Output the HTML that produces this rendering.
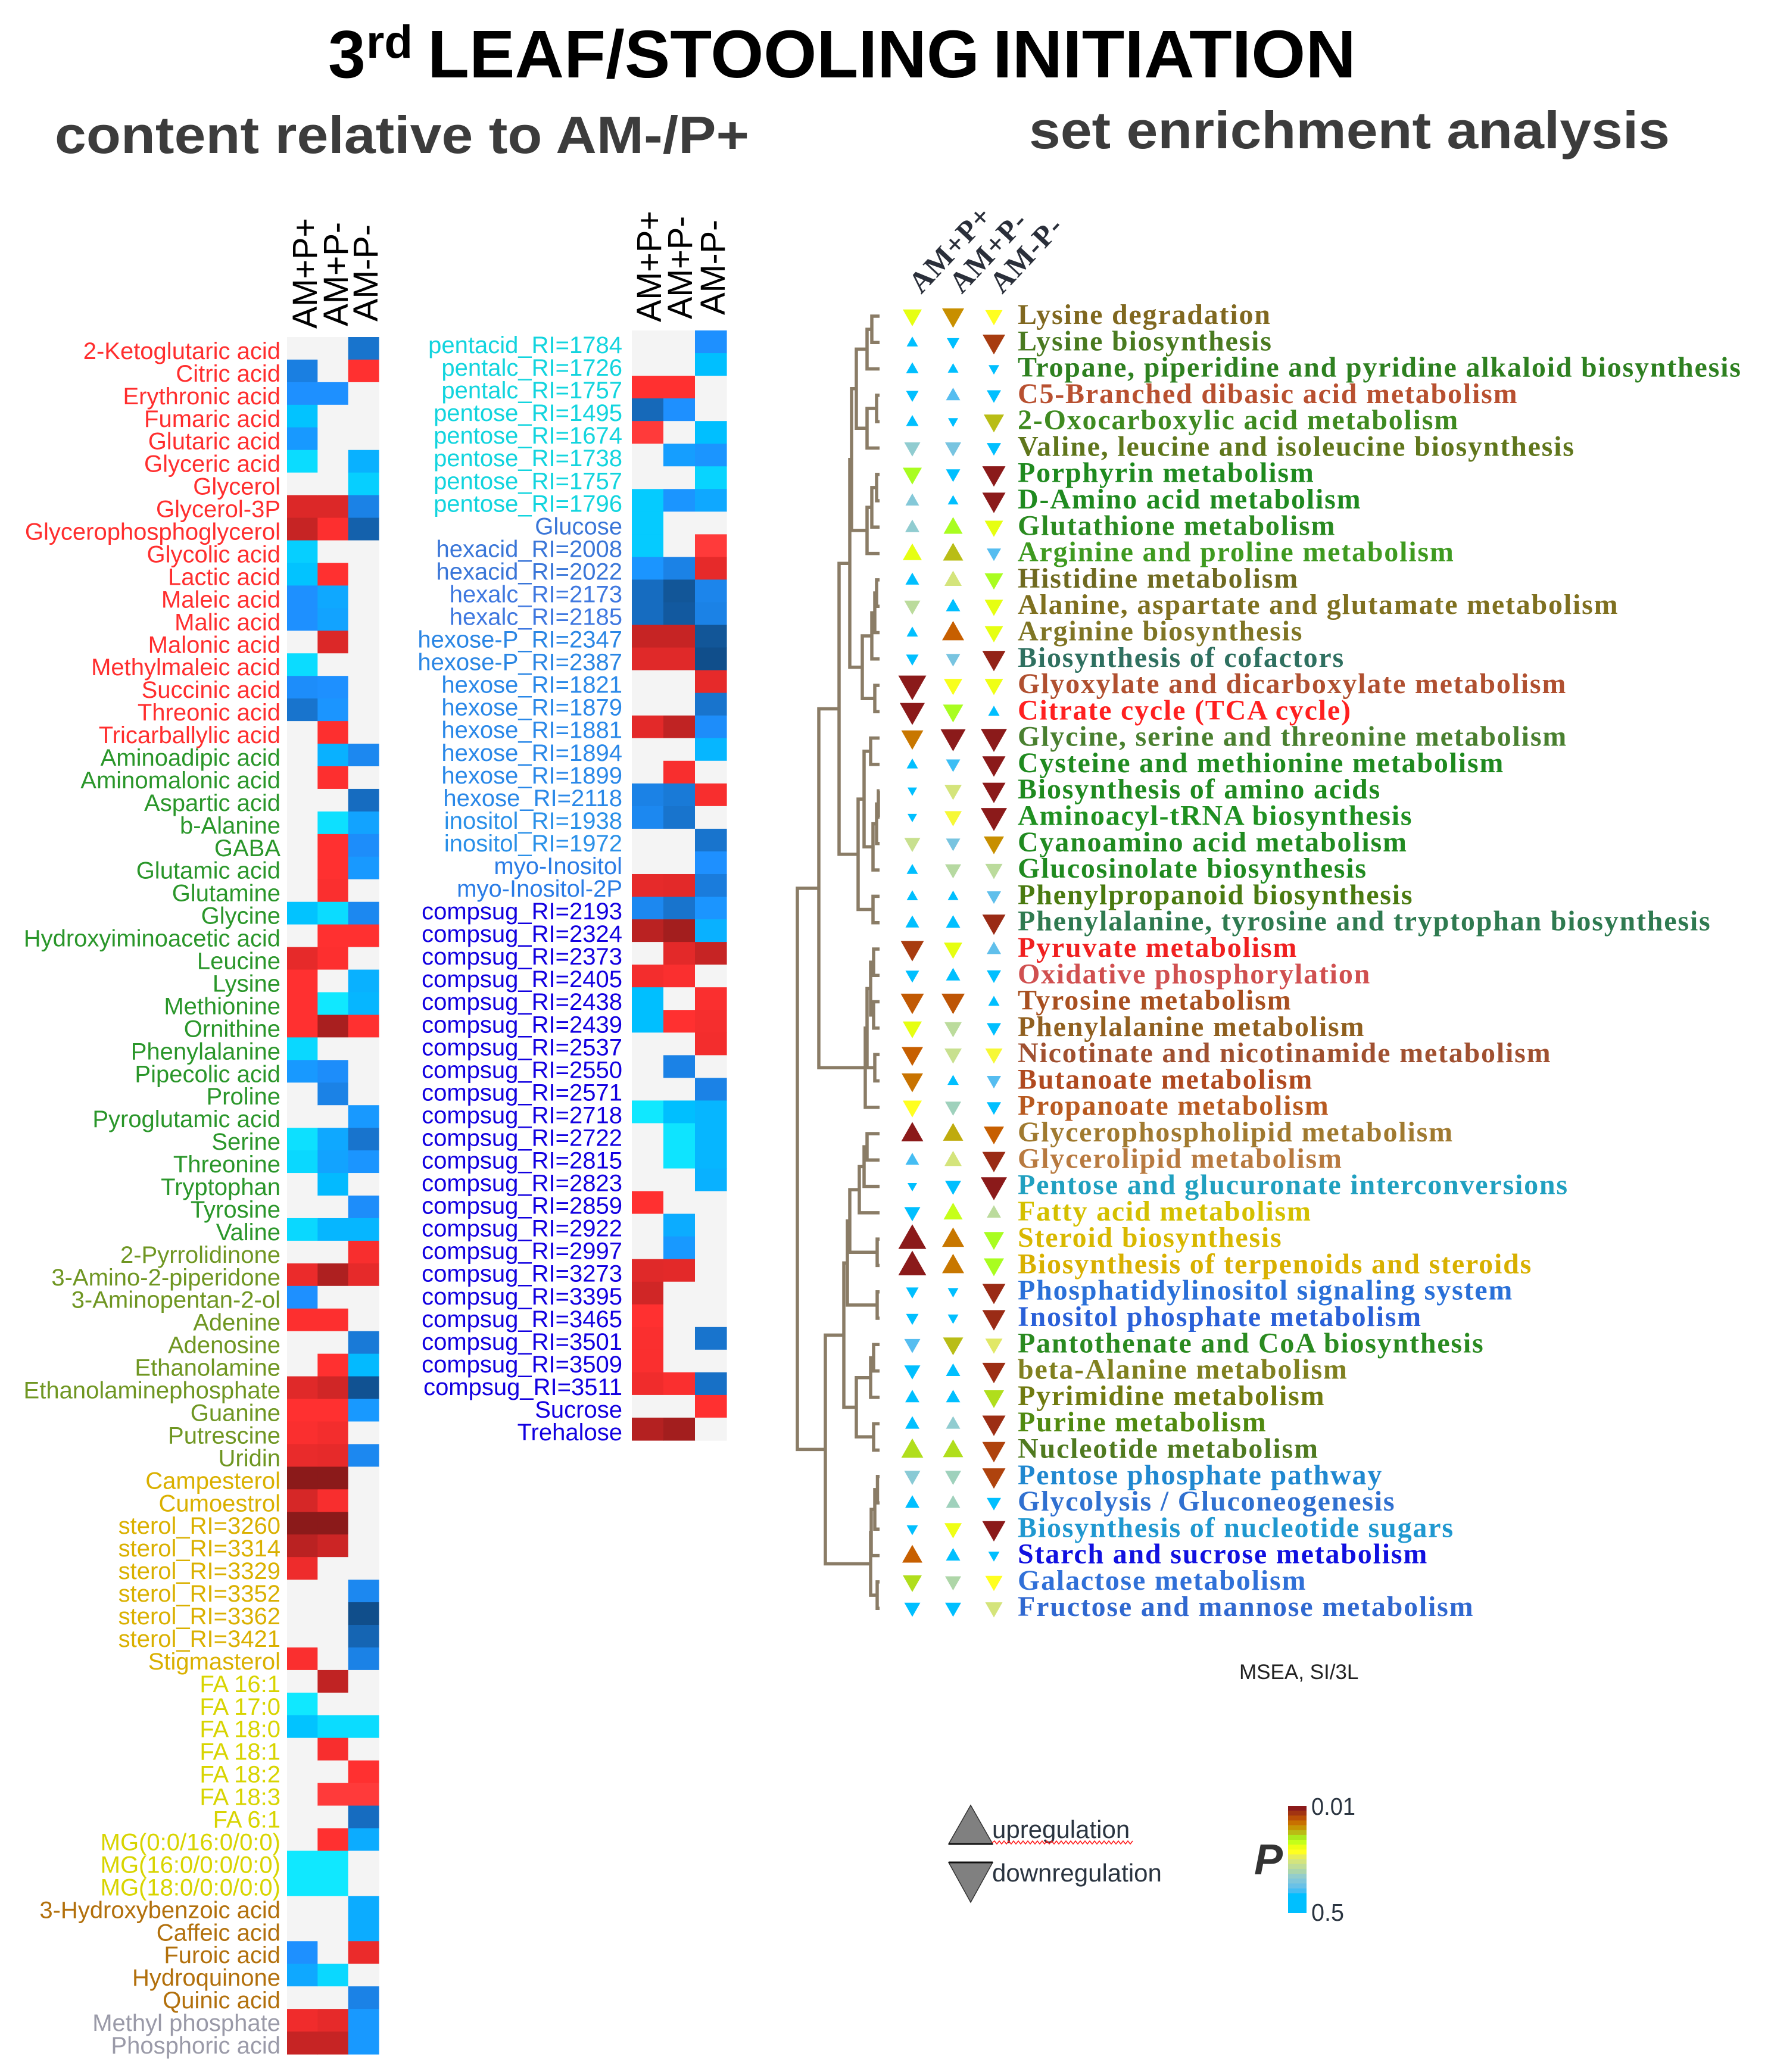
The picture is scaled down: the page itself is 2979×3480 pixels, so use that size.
<!DOCTYPE html>
<html lang="en">
<head>
<meta charset="utf-8">
<title>3rd leaf / stooling initiation</title>
<style>
html,body{margin:0;padding:0;background:#fff;}
svg{display:block;}
</style>
</head>
<body>
<svg id="figure" xmlns="http://www.w3.org/2000/svg" width="2979" height="3480" viewBox="0 0 2979 3480" font-family="'Liberation Sans', sans-serif">
  <rect x="0" y="0" width="2979" height="3480" fill="#ffffff"/>
  <text x="551" y="130" font-size="113" font-weight="700" fill="#000">3</text>
  <text x="615" y="97" font-size="78" font-weight="700" fill="#000">rd</text>
  <text x="718" y="130" font-size="113" font-weight="700" fill="#000" textLength="927" lengthAdjust="spacingAndGlyphs">LEAF/STOOLING</text>
  <text x="1667" y="130" font-size="113" font-weight="700" fill="#000" textLength="610" lengthAdjust="spacingAndGlyphs">INITIATION</text>
  <text x="92" y="257" font-size="88" font-weight="700" fill="#3c3c3c" textLength="1166" lengthAdjust="spacingAndGlyphs">content relative to AM-/P+</text>
  <text x="1728" y="249" font-size="88" font-weight="700" fill="#3c3c3c" textLength="1076" lengthAdjust="spacingAndGlyphs">set enrichment analysis</text>
  <g id="left-heatmap"></g>
  <g id="middle-heatmap"></g>
  <g id="dendrogram"></g>
  <g id="msea"></g>
  <text x="2081" y="2820" font-size="35" fill="#222">MSEA, SI/3L</text>
  <g>
    <polygon points="1630,3032 1667,3097 1593,3097" fill="#808080" stroke="#333" stroke-width="1.5"/>
    <line x1="1593" y1="3097" x2="1667" y2="3097" stroke="#111" stroke-width="3"/>
    <polygon points="1593,3128 1667,3128 1630,3195" fill="#808080" stroke="#333" stroke-width="1.5"/>
    <line x1="1593" y1="3128" x2="1667" y2="3128" stroke="#111" stroke-width="3"/>
    <text x="1666" y="3087" font-size="42" fill="#2a3440">upregulation</text>
    <path id="squiggle" fill="none" stroke="#ff1a1a" stroke-width="1.6"/>
    <text x="1666" y="3160" font-size="42" fill="#2a3440">downregulation</text>
  </g>
  <g id="colorbar">
    <text x="2106" y="3148" font-size="72" font-weight="700" font-style="italic" fill="#333">P</text>
    <text x="2202" y="3048" font-size="41" fill="#2a3440" textLength="74" lengthAdjust="spacingAndGlyphs">0.01</text>
    <text x="2202" y="3226" font-size="41" fill="#2a3440" textLength="55" lengthAdjust="spacingAndGlyphs">0.5</text>
  </g>
</svg>
<script>
/* ---------- shared treatment names ---------- */
const treatments = ["AM+P+", "AM+P-", "AM-P-"];

/* ---------- left heatmap data ---------- */
const leftLabels = ["2-Ketoglutaric acid","Citric acid","Erythronic acid","Fumaric acid","Glutaric acid","Glyceric acid","Glycerol","Glycerol-3P","Glycerophosphoglycerol","Glycolic acid","Lactic acid","Maleic acid","Malic acid","Malonic acid","Methylmaleic acid","Succinic acid","Threonic acid","Tricarballylic acid","Aminoadipic acid","Aminomalonic acid","Aspartic acid","b-Alanine","GABA","Glutamic acid","Glutamine","Glycine","Hydroxyiminoacetic acid","Leucine","Lysine","Methionine","Ornithine","Phenylalanine","Pipecolic acid","Proline","Pyroglutamic acid","Serine","Threonine","Tryptophan","Tyrosine","Valine","2-Pyrrolidinone","3-Amino-2-piperidone","3-Aminopentan-2-ol","Adenine","Adenosine","Ethanolamine","Ethanolaminephosphate","Guanine","Putrescine","Uridin","Campesterol","Cumoestrol","sterol_RI=3260","sterol_RI=3314","sterol_RI=3329","sterol_RI=3352","sterol_RI=3362","sterol_RI=3421","Stigmasterol","FA 16:1","FA 17:0","FA 18:0","FA 18:1","FA 18:2","FA 18:3","FA 6:1","MG(0:0/16:0/0:0)","MG(16:0/0:0/0:0)","MG(18:0/0:0/0:0)","3-Hydroxybenzoic acid","Caffeic acid","Furoic acid","Hydroquinone","Quinic acid","Methyl phosphate","Phosphoric acid"];
const leftGroupSizes = [18, 22, 10, 9, 10, 5, 2];
const leftGroupColors = ["#ff2e2e", "#2a962a", "#6f9622", "#dab000", "#d8d400", "#b2700c", "#9a9aa8"];
const leftAmPlusPPlus = [0,-3.6,-3,-1.9,-2.8,-1.3,0,2.3,3,-1.6,-1.9,-3,-3,0,-1.3,-3.1,-4,0,0,0,0,0,0,0,0,-1.9,0,2,1,1,1,-1.4,-2.8,0,0,-1.2,-1.4,0,0,-1.4,0,1.8,-3,1.1,0,0,2.2,1,1.2,1.9,4,2.5,4,3.2,1.7,0,0,0,1.2,0,-1,-1.9,0,0,0,0,0,-1,-1,0,0,-3,-2.5,0,1.6,3];
const leftAmPlusPMinus = [0,0,-3,0,0,0,0,2.3,1.1,0,1,-2.5,-2.6,2.3,0,-3,-2.9,1.1,-2.3,1.1,0,-1.2,1,1,1.2,-1.3,1,1.1,0,-1,3.5,0,-3.1,-3.5,0,-2.5,-2.6,-2.1,0,-2.2,0,3.4,0,1.1,0,1,2.7,1,1.5,2,4,1.3,4,2.8,0,0,0,0,0,3.1,0,-1.3,1.3,0,0.8,0,1,-1,-1,0,0,0,-1.4,0,2,3];
const leftAmMinusPMinus = [-4,1,0,0,0,-2.3,-1.6,-3.5,-4.5,0,0,0,0,0,0,0,0,0,-3.3,0,-4.2,-2.6,-3.1,-2.8,0,-3.3,1,0,-2.3,-2.2,1,0,0,0,-2.8,-4,-2.9,0,-3.1,-2.2,1.3,2,0,0,-3.8,-2.1,-4.9,-2.8,0,-3.3,0,0,0,0,0,-3.3,-5,-4.4,-3.5,0,0,-1.3,0,1,0.8,-4.2,-2.4,0,0,-2.4,-2.4,1.8,0,-3.5,-2.8,-2.8];

/* ---------- middle heatmap data ---------- */
const middleLabels = ["pentacid_RI=1784","pentalc_RI=1726","pentalc_RI=1757","pentose_RI=1495","pentose_RI=1674","pentose_RI=1738","pentose_RI=1757","pentose_RI=1796","Glucose","hexacid_RI=2008","hexacid_RI=2022","hexalc_RI=2173","hexalc_RI=2185","hexose-P_RI=2347","hexose-P_RI=2387","hexose_RI=1821","hexose_RI=1879","hexose_RI=1881","hexose_RI=1894","hexose_RI=1899","hexose_RI=2118","inositol_RI=1938","inositol_RI=1972","myo-Inositol","myo-Inositol-2P","compsug_RI=2193","compsug_RI=2324","compsug_RI=2373","compsug_RI=2405","compsug_RI=2438","compsug_RI=2439","compsug_RI=2537","compsug_RI=2550","compsug_RI=2571","compsug_RI=2718","compsug_RI=2722","compsug_RI=2815","compsug_RI=2823","compsug_RI=2859","compsug_RI=2922","compsug_RI=2997","compsug_RI=3273","compsug_RI=3395","compsug_RI=3465","compsug_RI=3501","compsug_RI=3509","compsug_RI=3511","Sucrose","Trehalose"];
const middleGroupSizes = [8, 3, 2, 2, 6, 2, 2, 24];
const middleGroupColors = ["#12d4de", "#3a76d8", "#3f78e0", "#2a86e4", "#2a88e8", "#2a90e8", "#2a7ce6", "#1200e0"];
const middleAmPlusPPlus = [0,0,1,-4.3,0.8,0,0,-1.7,-1.7,-1.7,-2.9,-4.2,-4.2,3,2.2,0,0,2.1,0,0,-3.5,-3.3,0,0,2,-3.3,3.2,0,1.5,-2,-2,0,0,0,-1,0,0,0,1,0,0,2.2,2.7,1,1.2,1.2,1.6,0,3.3];
const middleAmPlusPMinus = [0,0,1,-3,0,-2.7,0,-2.9,0,0,-3.5,-4.8,-4.7,3,2.2,0,0,3.1,0,1.3,-3.8,-4,0,0,2.1,-4,3.6,2.1,1.2,0,1,0,-3.5,0,-2,-1.1,-1.1,0,0,-2.4,-2.8,2.1,0,0,0,0,1.2,0,3.6];
const middleAmMinusPMinus = [-3,-2,0,0,-2,-2.9,-1.5,-2.5,0,0.9,2,-3.4,-3.5,-4.8,-5,2,-4,-3.1,-2.2,0,1.3,0,-4,-3,-3.7,-2.9,-2.3,3,0,1.2,1.4,1.5,0,-3.5,-2.2,-2.2,-2.2,-2.3,0,0,0,0,0,0,-4,0,-4.1,1,0];

/* ---------- enrichment data ---------- */
const pathwayNames = ["Lysine degradation","Lysine biosynthesis","Tropane, piperidine and pyridine alkaloid biosynthesis","C5-Branched dibasic acid metabolism","2-Oxocarboxylic acid metabolism","Valine, leucine and isoleucine biosynthesis","Porphyrin metabolism","D-Amino acid metabolism","Glutathione metabolism","Arginine and proline metabolism","Histidine metabolism","Alanine, aspartate and glutamate metabolism","Arginine biosynthesis","Biosynthesis of cofactors","Glyoxylate and dicarboxylate metabolism","Citrate cycle (TCA cycle)","Glycine, serine and threonine metabolism","Cysteine and methionine metabolism","Biosynthesis of amino acids","Aminoacyl-tRNA biosynthesis","Cyanoamino acid metabolism","Glucosinolate biosynthesis","Phenylpropanoid biosynthesis","Phenylalanine, tyrosine and tryptophan biosynthesis","Pyruvate metabolism","Oxidative phosphorylation","Tyrosine metabolism","Phenylalanine metabolism","Nicotinate and nicotinamide metabolism","Butanoate metabolism","Propanoate metabolism","Glycerophospholipid metabolism","Glycerolipid metabolism","Pentose and glucuronate interconversions","Fatty acid metabolism","Steroid biosynthesis","Biosynthesis of terpenoids and steroids","Phosphatidylinositol signaling system","Inositol phosphate metabolism","Pantothenate and CoA biosynthesis","beta-Alanine metabolism","Pyrimidine metabolism","Purine metabolism","Nucleotide metabolism","Pentose phosphate pathway","Glycolysis / Gluconeogenesis","Biosynthesis of nucleotide sugars","Starch and sucrose metabolism","Galactose metabolism","Fructose and mannose metabolism"];
const pathwayColors = ["#806820","#4a7a20","#2e8020","#b85030","#3f8a20","#60761c","#1f8a1f","#1f8a1f","#2a8a20","#3f9a20","#6f6a20","#7f7020","#7f7525","#2f7060","#b05030","#ff2020","#4a8030","#1f8a1f","#1f8a1f","#1f9020","#208a20","#208a20","#4a7a10","#2f7a50","#f02020","#d05050","#a85020","#906020","#a05030","#b04a20","#b85a20","#a07a30","#b87a40","#20a0c0","#d4c000","#d8b800","#d8b000","#2a70d8","#2a60d8","#2a8a20","#808020","#707a10","#508a10","#507a20","#2088d0","#3070d0","#2098d0","#1010e0","#3070d8","#3068d0"];
const scoreAmPlusPPlus = [-3.2,1.9,2.1,-2.1,2.1,-2.7,-3.2,2.3,2.4,3.2,2.3,-2.7,1.9,-2.1,-4.7,-4.2,-3.7,1.9,-1.6,-1.6,-2.7,1.9,1.9,2.3,-3.9,-2.3,-3.9,-3.2,-3.6,-3.6,-3.2,3.7,2.3,-1.6,-2.7,4.7,4.7,-2.1,-2.1,-2.7,-2.7,2.4,2.4,3.7,-2.7,2.4,-1.9,3.4,-3.2,-2.7];
const scoreAmPlusPMinus = [-3.7,-2.1,1.8,2.4,-1.7,-2.7,-2.4,1.8,3.2,3.4,2.9,2.4,3.7,-2.4,-3.1,-3.4,-4.2,-2.4,-2.9,-2.9,-2.4,-2.7,1.8,2.4,-3.1,2.4,-3.9,-2.9,-2.9,1.9,-2.7,3.4,2.9,-2.7,3.2,3.7,3.7,-1.8,-1.8,-3.4,2.4,2.4,2.4,3.4,-2.7,2.4,-2.9,2.4,-2.7,-2.7];
const scoreAmMinusPMinus = [-2.9,-3.8,-1.8,-2.4,-3.4,-2.4,-3.9,-3.9,-3.1,-2.4,-3.1,-3.1,-3.1,-3.9,-3.1,1.9,-4.4,-3.9,-3.9,-4.4,-3.4,-2.9,-2.4,-3.9,2.4,-2.4,1.9,-2.4,-2.9,-2.4,-2.4,-3.4,-3.9,-4.4,2.4,-3.4,-3.4,-3.9,-3.9,-2.9,-3.9,-3.4,-3.9,-3.9,-3.9,-2.4,-3.9,-1.9,-2.9,-2.9];
const pAmPlusPPlus = [0.053,0.5,0.5,0.5,0.5,0.216,0.04,0.248,0.216,0.053,0.5,0.142,0.5,0.5,0.01,0.01,0.02,0.5,0.5,0.5,0.123,0.5,0.5,0.5,0.0132,0.5,0.0165,0.053,0.0174,0.0195,0.0706,0.01,0.4,0.5,0.5,0.01,0.01,0.5,0.5,0.378,0.5,0.5,0.5,0.035,0.235,0.5,0.5,0.0174,0.035,0.5];
const pAmPlusPMinus = [0.023,0.5,0.5,0.378,0.5,0.286,0.5,0.5,0.04,0.03,0.107,0.5,0.0174,0.286,0.065,0.04,0.01,0.41,0.107,0.077,0.286,0.15,0.5,0.5,0.053,0.5,0.016,0.142,0.123,0.5,0.188,0.027,0.107,0.5,0.046,0.02,0.02,0.5,0.5,0.03,0.5,0.5,0.216,0.035,0.188,0.188,0.058,0.5,0.163,0.5];
const pAmMinusPMinus = [0.0706,0.0132,0.5,0.5,0.03,0.5,0.01,0.01,0.053,0.378,0.04,0.053,0.053,0.0108,0.058,0.5,0.01,0.01,0.01,0.01,0.023,0.142,0.347,0.0115,0.347,0.5,0.5,0.5,0.077,0.378,0.5,0.0174,0.0115,0.01,0.142,0.04,0.04,0.0115,0.0115,0.093,0.0118,0.035,0.0118,0.014,0.014,0.5,0.01,0.5,0.0706,0.107];

/* ---------- dendrogram merges: [distance, childA, childB]; integers are 1-based pathway rows ---------- */
const dendrogramClusterA = [4.7,[3.9,[2.1,[1.3,1,2],3],[2.1,[0.5,4,5],6]],[2.1,[1.3,[0.5,7,8],9],10]];
const dendrogramClusterB = [2.9,[1.3,[0.8,[0.5,11,12],13],14],[0.8,15,16]];
const dendrogramClusterC = [3.6,[2.6,[1.5,17,18],[1.1,[0.5,[0.2,19,20],21],22]],[1.1,23,24]];
const dendrogramClusterD = [2.4,[2.1,[1.5,[1.0,25,26],[1.0,27,28]],[0.8,29,30]],31];
const dendrogramClusterE = [5.4,[5.0,[3.4,[2.6,[2.1,32,33],34],35],[0.4,36,37]],[0.4,38,39]];
const dendrogramClusterF = [3.9,[1.5,[1.0,40,41],42],[1.0,43,44]];
const dendrogramClusterG = [1.5,[1.4,[0.8,[0.35,45,46],47],48],[0.4,49,50]];
const dendrogramRootHeights = [13.8, 10.2, 6.8, 5.0, 9.1, 6.0];

/* ---------- colour palettes ---------- */
const negativeStops = ["#10e8ff","#00bfff","#1e90ff","#1874cd","#104e8b"];
const positiveStops = ["#ff3030","#e62a2a","#c62424","#8b1a1a"];
const pRampStops = ["#00bfff","#56bdf0","#78c4e0","#90ccd0","#aed6a8","#c8e090","#e0e868","#ffff20","#e8ff10","#a8ff20","#b8c018","#c89000","#c86000","#a83c10","#8b1a1a"];
const NEUTRAL = "#f4f4f4";

const SVGNS = "http://www.w3.org/2000/svg";
function el(tag, parent) {
  const node = document.createElementNS(SVGNS, tag);
  parent.appendChild(node);
  return node;
}
function hexToRgb(h) { return [parseInt(h.slice(1,3),16), parseInt(h.slice(3,5),16), parseInt(h.slice(5,7),16)]; }
function lerpStops(stops, t) {
  const c = Math.max(0, Math.min(stops.length - 1, t));
  const i = Math.min(stops.length - 2, Math.floor(c));
  const f = c - i, a = hexToRgb(stops[i]), b = hexToRgb(stops[i + 1]);
  return "rgb(" + a.map(function (v, k) { return Math.round(v + (b[k] - v) * f); }).join(",") + ")";
}
function heatColor(v) {
  if (v === 0) return NEUTRAL;
  if (v > 0) {
    if (v < 1) return "#ff3a3a";
    return lerpStops(positiveStops, v - 1);
  }
  return lerpStops(negativeStops, -v - 1);
}
function pLevel(p) { return Math.log(p / 0.5) / Math.log(0.02) * (pRampStops.length - 1); }
function pColor(p) { return lerpStops(pRampStops, pLevel(p)); }
function groupColor(sizes, colors, i) {
  let n = 0;
  for (let g = 0; g < sizes.length; g++) { n += sizes[g]; if (i < n) return colors[g]; }
  return colors[colors.length - 1];
}

/* ---------- heatmaps ---------- */
function drawHeatmap(host, cfg) {
  const step = (cfg.right - cfg.left) / 3;
  const rowH = (cfg.bottom - cfg.top) / cfg.labels.length;
  cfg.series.forEach(function (values, c) {
    values.forEach(function (v, r) {
      const cell = el("rect", host);
      
      
      cell.setAttribute("x", (cfg.left + c * step).toFixed(2));
      cell.setAttribute("y", (cfg.top + r * rowH).toFixed(2));
      cell.setAttribute("width", (step + 0.6).toFixed(2));
      cell.setAttribute("height", (rowH + 0.6).toFixed(2));
      cell.setAttribute("fill", heatColor(v));
    });
  });
  cfg.labels.forEach(function (name, r) {
    const t = el("text", host);
    
    
    t.setAttribute("x", cfg.labelRight);
    t.setAttribute("y", (cfg.top + (r + 1) * rowH - cfg.baselineLift).toFixed(2));
    t.setAttribute("text-anchor", "end");
    t.setAttribute("font-size", "40");
    t.setAttribute("fill", groupColor(cfg.groupSizes, cfg.groupColors, r));
    t.textContent = name;
  });
  treatments.forEach(function (name, c) {
    const t = el("text", host);
    
    
    const hx = cfg.headerX[c], hy = cfg.headerY[c];
    t.setAttribute("transform", "translate(" + hx + "," + hy + ") rotate(-90)");
    t.setAttribute("font-size", "58");
    t.setAttribute("textLength", cfg.headerLength[c]);
    t.setAttribute("lengthAdjust", "spacingAndGlyphs");
    t.setAttribute("fill", "#000");
    t.textContent = name;
  });
}
drawHeatmap(document.getElementById("left-heatmap"), {
  labels: leftLabels, groupSizes: leftGroupSizes, groupColors: leftGroupColors,
  series: [leftAmPlusPPlus, leftAmPlusPMinus, leftAmMinusPMinus],
  left: 482, right: 636, top: 566, bottom: 3450, labelRight: 471, baselineLift: 1,
  headerX: [532, 584, 634], headerY: [552, 548, 540], headerLength: [186, 175, 163]
});
drawHeatmap(document.getElementById("middle-heatmap"), {
  labels: middleLabels, groupSizes: middleGroupSizes, groupColors: middleGroupColors,
  series: [middleAmPlusPPlus, middleAmPlusPMinus, middleAmMinusPMinus],
  left: 1061, right: 1220, top: 555, bottom: 2419, labelRight: 1045, baselineLift: 0,
  headerX: [1110, 1162, 1217], headerY: [541, 536, 529], headerLength: [187, 173, 160]
});

/* ---------- enrichment matrix axes ---------- */
const ROW0 = 531, ROW_STEP = 44.29;
function rowY(i) { return ROW0 + ROW_STEP * i; }
const COL0 = 1532, COL_STEP = 68.5;
function colX(c) { return COL0 + COL_STEP * c; }
function scoreWidth(score) { return Math.abs(score) * 10; }

const mseaHost = document.getElementById("msea");
const mseaScores = [scoreAmPlusPPlus, scoreAmPlusPMinus, scoreAmMinusPMinus];
const mseaPvalues = [pAmPlusPPlus, pAmPlusPMinus, pAmMinusPMinus];
mseaScores.forEach(function (scores, c) {
  scores.forEach(function (score, r) {
    const w = scoreWidth(score), h = w * 0.88, cx = colX(c), y = rowY(r);
    const base = score > 0 ? y + w * 0.35 : y - w * 0.35;
    const tip = score > 0 ? base - h : base + h;
    const tri = el("polygon", mseaHost);
    
    
    tri.setAttribute("points", (cx - w / 2).toFixed(1) + "," + base.toFixed(1) + " " + (cx + w / 2).toFixed(1) + "," + base.toFixed(1) + " " + cx.toFixed(1) + "," + tip.toFixed(1));
    tri.setAttribute("fill", pColor(mseaPvalues[c][r]));
  });
});
pathwayNames.forEach(function (name, r) {
  const t = el("text", mseaHost);
  
  
  t.setAttribute("x", "1709");
  t.setAttribute("y", (rowY(r) + 13).toFixed(1));
  t.setAttribute("font-family", "'Liberation Serif', serif");
  t.setAttribute("font-weight", "700");
  t.setAttribute("font-size", "48");
  t.setAttribute("letter-spacing", "1.8");
  t.setAttribute("fill", pathwayColors[r]);
  t.textContent = name;
});
treatments.forEach(function (name, c) {
  const t = el("text", mseaHost);
  
  
  t.setAttribute("transform", "translate(" + (1547 + 68 * c) + ",495) rotate(-47)");
  t.setAttribute("font-family", "'Liberation Serif', serif");
  t.setAttribute("font-weight", "700");
  t.setAttribute("font-size", "50");
  t.setAttribute("letter-spacing", "1.5");
  t.setAttribute("fill", "#2a2f3a");
  t.textContent = name;
});

/* ---------- dendrogram ---------- */
const treeUpper = [dendrogramRootHeights[2], [dendrogramRootHeights[3], dendrogramClusterA, dendrogramClusterB], dendrogramClusterC];
const treeLeft = [dendrogramRootHeights[1], treeUpper, dendrogramClusterD];
const treeRight = [dendrogramRootHeights[4], [dendrogramRootHeights[5], dendrogramClusterE, dendrogramClusterF], dendrogramClusterG];
const dendrogramRoot = [dendrogramRootHeights[0], treeLeft, treeRight];
const TREE_TIP_X = 1477;
function distX(d) { return TREE_TIP_X - d * 10; }
const dendroHost = document.getElementById("dendrogram");
function drawTree(node) {
  if (typeof node === "number") return { x: TREE_TIP_X, y: rowY(node - 1) };
  const a = drawTree(node[1]), b = drawTree(node[2]), x = distX(node[0]);
  const branch = el("path", dendroHost);
  
  
  branch.setAttribute("d", "M" + a.x + " " + a.y.toFixed(1) + "H" + x + "V" + b.y.toFixed(1) + "H" + b.x);
  branch.setAttribute("fill", "none");
  branch.setAttribute("stroke", "#8a7c66");
  branch.setAttribute("stroke-width", "5.5");
  branch.setAttribute("stroke-linejoin", "miter");
  return { x: x, y: (a.y + b.y) / 2 };
}
drawTree(dendrogramRoot);

/* ---------- colour bar ---------- */
const colorbarHost = document.getElementById("colorbar");
const colorbarBandCount = 19;
for (let i = 0; i < colorbarBandCount; i++) {
  const band = el("rect", colorbarHost);
  
  
  const y = 3033 + i * 8.15;
  const isLast = i === colorbarBandCount - 1;
  band.setAttribute("x", "2163");
  band.setAttribute("y", y.toFixed(2));
  band.setAttribute("width", "31");
  band.setAttribute("height", isLast ? (3213 - y).toFixed(2) : "8.4");
  band.setAttribute("fill", lerpStops(pRampStops, (colorbarBandCount - 1 - i) / (colorbarBandCount - 1) * (pRampStops.length - 1)));
}

/* ---------- spell-check squiggle ---------- */
let squiggle = "M1666 3095";
for (let sx = 1670, up = true; sx <= 1905; sx += 4, up = !up) {
  squiggle += "L" + sx + " " + (up ? 3092 : 3097);
}
document.getElementById("squiggle").setAttribute("d", squiggle);
</script>
</body>
</html>
